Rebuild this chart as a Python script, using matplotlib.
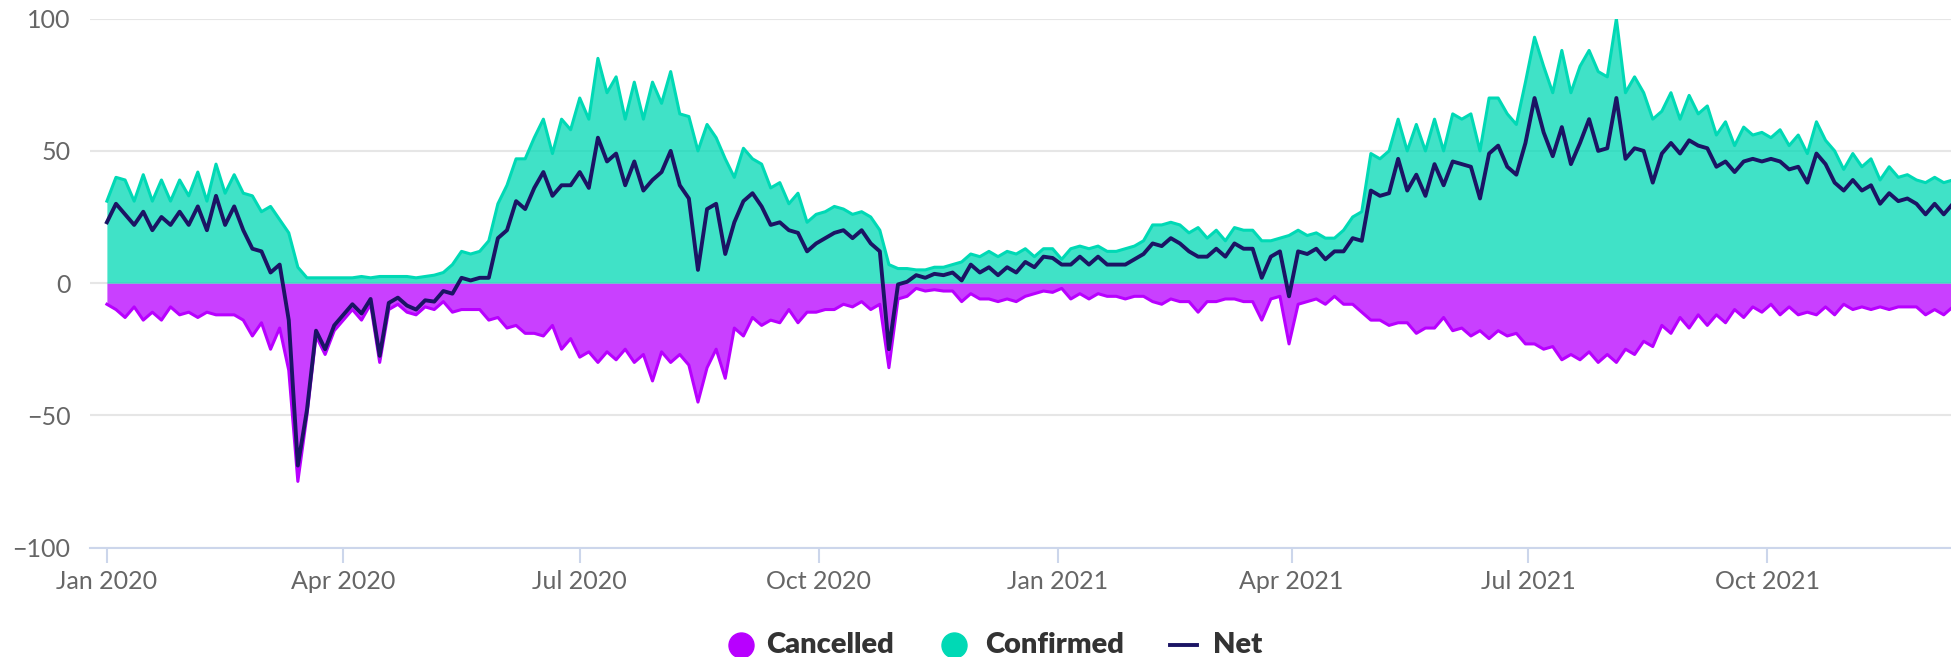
"""Confirmed vs cancelled bookings, daily net (2020-2021)."""
import matplotlib
matplotlib.use("Agg")
import matplotlib.pyplot as plt
import matplotlib.dates as mdates
from matplotlib.lines import Line2D
import numpy as np
import pandas as pd

# two readings per week (every 3.5 days) starting 1 Jan 2020
start = "2020-01-01"
confirmed = [
    31, 40, 39, 31, 41, 31, 39, 31, 39, 33, 42, 31, 45, 34, 41, 34, 33, 27, 29, 24,
    19, 6, 2, 2, 2, 2, 2, 2, 2.5, 2, 2.5, 2.5, 2.5, 2.5,
    2, 2.5, 3, 4, 7, 12, 11, 12, 16, 30, 37, 47, 47, 55, 62, 49, 62, 58, 70, 62,
    85, 72, 78, 62, 76, 62, 76, 68, 80, 64, 63, 50, 60,
    55, 47, 40, 51, 47, 45, 36, 38, 30, 34, 23, 26, 27, 29, 28, 26, 27, 25, 20, 7,
    5.5, 5.5, 5, 5, 6, 6, 7, 8, 11, 10, 12, 10, 12, 11,
    13, 10, 13, 13, 9, 13, 14, 13, 14, 12, 12, 13, 14, 16, 22, 22, 23, 22, 19, 21,
    17, 20, 16, 21, 20, 20, 16, 16, 17, 18, 20, 18, 19, 17,
    17, 20, 25, 27, 49, 47, 50, 62, 50, 60, 50, 62, 50, 64, 62, 64, 50, 70, 70, 64,
    60, 76, 93, 82, 72, 88, 72, 82, 88, 80, 78, 100, 72, 78,
    72, 62, 65, 72, 62, 71, 64, 67, 56, 61, 52, 59, 56, 57, 55, 58, 52, 56, 49, 61,
    54, 50, 43, 49, 44, 47, 39, 44, 40, 41, 39, 38, 40, 38, 39,
]
cancelled = [
    -8, -10, -13, -9, -14, -11, -14, -9, -12, -11, -13, -11, -12, -12, -12, -14, -20, -15, -25, -17,
    -33, -75, -50, -20, -27, -18, -14, -10, -14, -8, -30, -10, -8, -11,
    -12, -9, -10, -7, -11, -10, -10, -10, -14, -13, -17, -16, -19, -19, -20, -16, -25, -21, -28, -26,
    -30, -26, -29, -25, -30, -27, -37, -26, -30, -27, -31, -45, -32,
    -25, -36, -17, -20, -13, -16, -14, -15, -10, -15, -11, -11, -10, -10, -8, -9, -7, -10, -8, -32,
    -6, -5, -2, -3, -2.5, -3, -3, -7, -4, -6, -6, -7, -6, -7,
    -5, -4, -3, -3.5, -2, -6, -4, -6, -4, -5, -5, -6, -5, -5, -7, -8, -6, -7, -7, -11,
    -7, -7, -6, -6, -7, -7, -14, -6, -5, -23, -8, -7, -6, -8,
    -5, -8, -8, -11, -14, -14, -16, -15, -15, -19, -17, -17, -13, -18, -17, -20, -18, -21, -18, -20,
    -19, -23, -23, -25, -24, -29, -27, -29, -26, -30, -27, -30, -25, -27,
    -22, -24, -16, -19, -13, -17, -12, -16, -12, -15, -10, -13, -9, -11, -8, -12, -9, -12, -11, -12,
    -9, -12, -8, -10, -9, -10, -9, -10, -9, -9, -9, -12, -10, -12, -9,
]
series_names = ["Cancelled", "Confirmed", "Net"]

dates = pd.date_range(start, periods=len(confirmed), freq="84h")
conf = np.array(confirmed, dtype=float)
canc = np.array(cancelled, dtype=float)
net = conf + canc

TEAL = "#00D9B5"
PURPLE = "#B800FF"
NAVY = "#1B1464"

plt.rcParams["font.family"] = ["Lato", "DejaVu Sans"]

fig = plt.figure(figsize=(19.51, 6.57), dpi=100)
ax = fig.add_axes([90 / 1951, 1 - 547.5 / 657, 1 - 90 / 1951, (547.5 - 18.7) / 657])

ax.fill_between(dates, 0, canc, color=PURPLE, alpha=0.75, lw=0, zorder=2)
ax.plot(dates, canc, color=PURPLE, lw=2.2, zorder=3)
ax.fill_between(dates, 0, conf, color=TEAL, alpha=0.75, lw=0, zorder=2)
ax.plot(dates, conf, color=TEAL, lw=2.2, zorder=3)
ax.plot(dates, net, color=NAVY, lw=2.8, zorder=4)

ax.set_ylim(-100, 100)
ax.set_xlim(pd.Timestamp("2019-12-25 12:00"), pd.Timestamp("2021-12-10 19:00"))
ax.set_yticks([-100, -50, 0, 50, 100])
ax.yaxis.grid(True, color="#e6e6e6", lw=1.5, zorder=0)
ax.set_axisbelow(True)
ax.xaxis.set_major_locator(mdates.MonthLocator(bymonth=[1, 4, 7, 10]))
ax.xaxis.set_major_formatter(mdates.DateFormatter("%b %Y"))
for s in ["top", "right", "left"]:
    ax.spines[s].set_visible(False)
ax.spines["bottom"].set_color("#ccd6eb")
ax.spines["bottom"].set_linewidth(1.5)
ax.tick_params(axis="x", colors="#ccd6eb", length=11, width=1.5, pad=5,
               labelcolor="#666666", labelsize=18)
ax.tick_params(axis="y", length=0, pad=14, labelcolor="#666666", labelsize=18)

# legend along the bottom edge
ly = 1 - 645 / 657
fig.add_artist(Line2D([741 / 1951], [ly], marker="o", ms=18, color=PURPLE, ls="none"))
fig.text(766 / 1951, ly, series_names[0], fontsize=21, fontweight="heavy", color="#333333", va="center")
fig.add_artist(Line2D([954 / 1951], [ly], marker="o", ms=18, color=TEAL, ls="none"))
fig.text(985 / 1951, ly, series_names[1], fontsize=21, fontweight="heavy", color="#333333", va="center")
fig.add_artist(Line2D([1170 / 1951, 1197 / 1951], [ly, ly], color=NAVY, lw=2.8))
fig.text(1213 / 1951, ly, series_names[2], fontsize=21, fontweight="heavy", color="#333333", va="center")

fig.savefig("out.png", dpi=100)
